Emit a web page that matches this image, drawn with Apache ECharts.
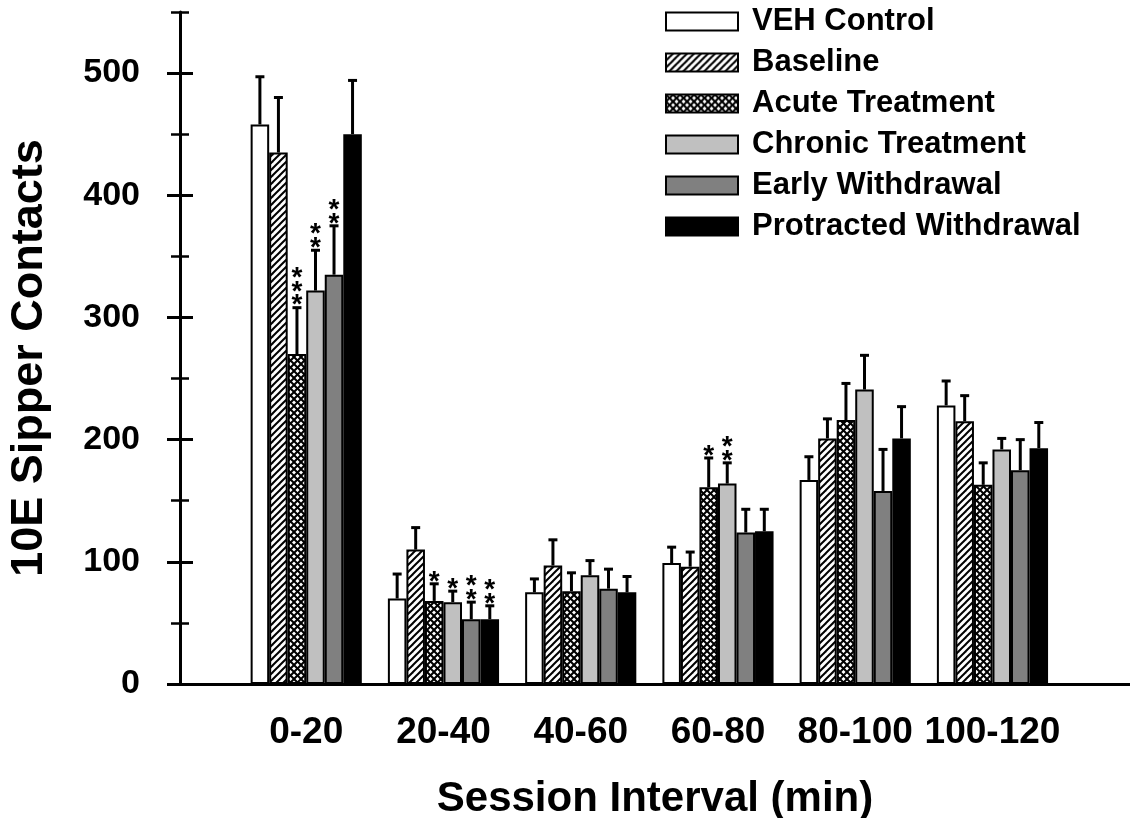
<!DOCTYPE html>
<html><head><meta charset="utf-8">
<script src="https://cdn.jsdelivr.net/npm/echarts@6/dist/echarts.min.js"></script>
<style>html,body{margin:0;padding:0;background:#fff}#c{width:1130px;height:818px}</style>
</head><body><div id="c"></div>
<script>
const categories = ['0-20','20-40','40-60','60-80','80-100','100-120'];
const seriesNames = ['VEH Control','Baseline','Acute Treatment','Chronic Treatment','Early Withdrawal','Protracted Withdrawal'];
const vehControl  = [458, 70, 75, 99, 167, 228];
const baseline    = [435, 110, 97, 96, 201, 215];
const acute       = [270, 68, 76, 161, 216, 163];
const chronic     = [322, 67, 89, 164, 241, 192];
const earlyW      = [335, 53, 78, 124, 158, 175];
const protracted  = [450, 53, 75, 125, 201, 193];
const vehErr      = [39, 20, 11, 13, 19, 20];
const baseErr     = [45, 18, 21, 12, 16, 21];
const acuteErr    = [38, 14, 15, 24, 30, 18];
const chronicErr  = [33, 9, 12, 17, 28, 9];
const earlyErr    = [40, 14, 16, 19, 34, 25];
const protErr     = [44, 11, 13, 18, 26, 21];
const vehStars    = [0,0,0,0,0,0];
const baseStars   = [0,0,0,0,0,0];
const acuteStars  = [3,1,0,1,0,0];
const chronicStars= [2,1,0,2,0,0];
const earlyStars  = [2,2,0,0,0,0];
const protStars   = [0,2,0,0,0,0];
const yMajorTicks = [0,100,200,300,400,500];
const yMinorTicks = [50,150,250,350,450,550];

const values = [vehControl, baseline, acute, chronic, earlyW, protracted];
const errs = [vehErr, baseErr, acuteErr, chronicErr, earlyErr, protErr];
const stars = [vehStars, baseStars, acuteStars, chronicStars, earlyStars, protStars];

function makePattern(type){
  const s = 7;
  const cv = document.createElement('canvas');
  cv.width = s; cv.height = s;
  const ctx = cv.getContext('2d');
  ctx.fillStyle = '#fff'; ctx.fillRect(0,0,s,s);
  ctx.strokeStyle = '#000'; ctx.lineWidth = 2;
  function seg(x1,y1,x2,y2){ctx.beginPath();ctx.moveTo(x1,y1);ctx.lineTo(x2,y2);ctx.stroke();}
  seg(-1, s+1, s+1, -1); seg(-1-s, s+1, 1, -1); seg(s-1, s+1, 2*s+1, -1);
  if (type === 'cross'){
    seg(-1,-1,s+1,s+1); seg(-1-s,-1,1,s+1); seg(s-1,-1,2*s+1,s+1);
  }
  return {image: cv, repeat: 'repeat'};
}
const fills = ['#ffffff', makePattern('diag'), makePattern('cross'), '#c0c0c0', '#808080', '#000000'];

const FONT = 'Liberation Sans';
const chart = echarts.init(document.getElementById('c'), null, {renderer:'canvas'});

const barSeries = seriesNames.map((n,i)=>({
  name: n, type: 'bar', xAxisIndex: 1, yAxisIndex: 4,
  data: values[i], barGap: '0%', barCategoryGap: '19%',
  itemStyle: {color: fills[i], borderColor: '#000', borderWidth: 2},
  emphasis: {disabled: true}, animation: false, z: 3
}));

function errRender(si){
  return function(params, api){
    const c = api.value(0), v = api.value(1), e = api.value(2), ns = api.value(3);
    const base = api.coord([c, v]);
    const top = api.coord([c, v + e]);
    const band = api.size([1,0])[0];
    const bw = band * 0.81 / 6;
    const x = base[0] + (si - 2.5) * bw;
    const ch = [
      {type:'line', shape:{x1:x, y1:base[1], x2:x, y2:top[1]}, style:{stroke:'#000', lineWidth:3}},
      {type:'line', shape:{x1:x-4.5, y1:top[1], x2:x+4.5, y2:top[1]}, style:{stroke:'#000', lineWidth:3}}
    ];
    for (let k=0;k<ns;k++){
      ch.push({type:'text', x: x, y: top[1] - 2 - k*13.5,
        style:{text:'*', font:'bold 28px "' + FONT + '"', fill:'#000', align:'center', verticalAlign:'middle'}});
    }
    return {type:'group', children: ch};
  };
}
const errSeries = seriesNames.map((n,i)=>({
  name: n + ' err', type: 'custom', xAxisIndex: 1, yAxisIndex: 4,
  data: categories.map((c,j)=>[j, values[i][j], errs[i][j], stars[i][j]]),
  renderItem: errRender(i), z: 2, animation: false, silent: true
}));

const yBase = {type:'value', gridIndex:0, min:0, max:550, position:'left', splitLine:{show:false}};
chart.setOption({
  animation: false,
  grid: [
    {left:180, right:0, top:12, bottom:134, outerBoundsMode:'none', containLabel:false},
    {left:237.6, width:823.5, top:12, bottom:134, outerBoundsMode:'none', containLabel:false}
  ],
  xAxis: [
    {type:'value', gridIndex:0, min:0, max:1, axisLine:{show:true, lineStyle:{color:'#000', width:3}},
     axisTick:{show:false}, axisLabel:{show:false}, splitLine:{show:false},
     name:'Session Interval (min)', nameLocation:'middle', nameGap:94,
     nameTextStyle:{fontFamily:FONT, fontWeight:'bold', fontSize:42, color:'#000'}},
    {type:'category', gridIndex:1, data:categories, axisLine:{show:false}, axisTick:{show:false},
     axisLabel:{interval:0, fontFamily:FONT, fontWeight:'bold', fontSize:37, color:'#000', margin:30}}
  ],
  yAxis: [
    Object.assign({}, yBase, {axisLine:{show:true, lineStyle:{color:'#000', width:3}},
      axisTick:{show:true, length:13, inside:false, customValues:yMajorTicks, lineStyle:{color:'#000', width:3}},
      axisLabel:{customValues:yMajorTicks, fontFamily:FONT, fontWeight:'bold', fontSize:34, color:'#000', margin:40},
      name:'10E Sipper Contacts', nameLocation:'middle', nameGap:128,
      nameTextStyle:{fontFamily:FONT, fontWeight:'bold', fontSize:45, color:'#000', padding:[0,20,0,0]}}),
    Object.assign({}, yBase, {axisLine:{show:false},
      axisTick:{show:true, length:13, inside:true, customValues:yMajorTicks, lineStyle:{color:'#000', width:3}},
      axisLabel:{show:false}}),
    Object.assign({}, yBase, {axisLine:{show:false},
      axisTick:{show:true, length:9, inside:false, customValues:yMinorTicks, lineStyle:{color:'#000', width:2.5}},
      axisLabel:{show:false}}),
    Object.assign({}, yBase, {axisLine:{show:false},
      axisTick:{show:true, length:9, inside:true, customValues:yMinorTicks, lineStyle:{color:'#000', width:2.5}},
      axisLabel:{show:false}}),
    {type:'value', gridIndex:1, min:0, max:550, show:false, splitLine:{show:false}}
  ],
  legend: {
    data: seriesNames, orient:'vertical', left:660, top:1, icon:'rect',
    itemWidth:72, itemHeight:18, itemGap:10, selectedMode:false,
    textStyle:{fontFamily:FONT, fontWeight:'bold', fontSize:31, color:'#000', lineHeight:18, padding:[0,0,0,9]}
  },
  series: barSeries.concat(errSeries)
});
</script></body></html>
